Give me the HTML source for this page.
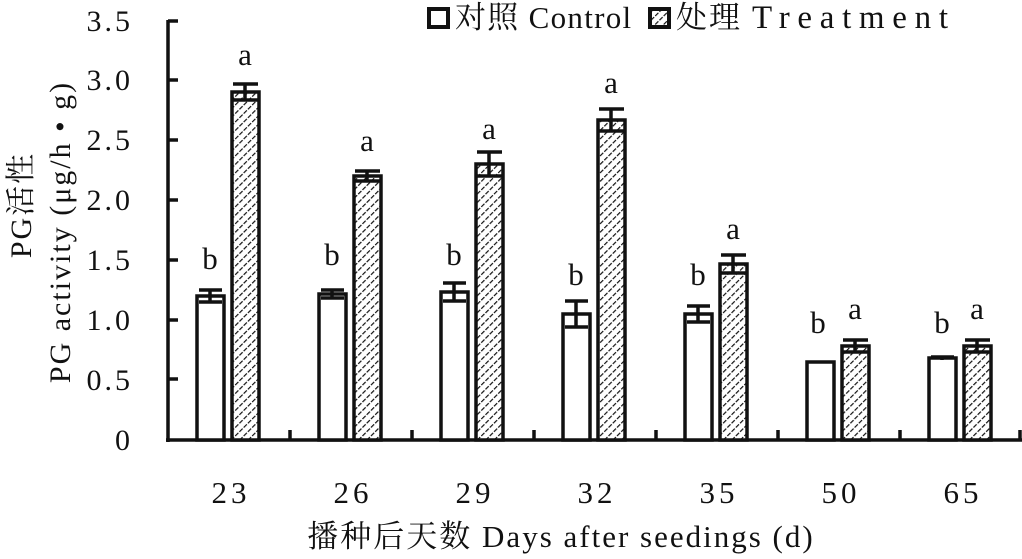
<!DOCTYPE html>
<html><head><meta charset="utf-8"><style>
html,body{margin:0;padding:0;background:#fff}
svg text{font-family:"Liberation Serif","Noto Serif CJK SC",serif;fill:#111}
</style></head><body>
<svg width="1022" height="554" xmlns="http://www.w3.org/2000/svg">
<defs>
<pattern id="h" width="6" height="6" patternUnits="userSpaceOnUse" patternTransform="rotate(45)">
<rect width="6" height="6" fill="#fff"/>
<line x1="0" y1="0" x2="0" y2="6" stroke="#111" stroke-width="2.4" stroke-dasharray="4,1.5"/>
</pattern>
</defs>
<g font-size="30" text-anchor="end" letter-spacing="3">
<text x="133" y="450">0</text>
<text x="133" y="390">0.5</text>
<text x="133" y="330">1.0</text>
<text x="133" y="270">1.5</text>
<text x="133" y="210">2.0</text>
<text x="133" y="150">2.5</text>
<text x="133" y="90">3.0</text>
<text x="133" y="31">3.5</text>
</g>
<g stroke="#111" stroke-width="3.5" fill="none">
<line x1="168" y1="20" x2="168" y2="442"/>
<line x1="166" y1="440" x2="1022" y2="440"/>
<line x1="168" y1="21" x2="178" y2="21"/>
<line x1="168" y1="80" x2="178" y2="80"/>
<line x1="168" y1="140" x2="178" y2="140"/>
<line x1="168" y1="200" x2="178" y2="200"/>
<line x1="168" y1="260" x2="178" y2="260"/>
<line x1="168" y1="320" x2="178" y2="320"/>
<line x1="168" y1="379" x2="178" y2="379"/>
<line x1="290" y1="440" x2="290" y2="430"/>
<line x1="412" y1="440" x2="412" y2="430"/>
<line x1="534" y1="440" x2="534" y2="430"/>
<line x1="656" y1="440" x2="656" y2="430"/>
<line x1="778" y1="440" x2="778" y2="430"/>
<line x1="900" y1="440" x2="900" y2="430"/>
<line x1="1020" y1="440" x2="1020" y2="430"/>
</g>
<g stroke="#111" stroke-width="3.5">
<rect x="197" y="296" width="27" height="144" fill="#fff"/>
<rect x="232" y="92" width="27" height="348" fill="url(#h)"/>
<rect x="319" y="294" width="27" height="146" fill="#fff"/>
<rect x="354" y="176" width="27" height="264" fill="url(#h)"/>
<rect x="441" y="292" width="27" height="148" fill="#fff"/>
<rect x="476" y="164" width="27" height="276" fill="url(#h)"/>
<rect x="563" y="314" width="27" height="126" fill="#fff"/>
<rect x="598" y="120" width="27" height="320" fill="url(#h)"/>
<rect x="685" y="314" width="27" height="126" fill="#fff"/>
<rect x="720" y="264" width="27" height="176" fill="url(#h)"/>
<rect x="807" y="362" width="27" height="78" fill="#fff"/>
<rect x="842" y="346" width="27" height="94" fill="url(#h)"/>
<rect x="929" y="358" width="27" height="82" fill="#fff"/>
<rect x="964" y="346" width="27" height="94" fill="url(#h)"/>
</g>
<g stroke="#111" stroke-width="3.5">
<path d="M210 290V302M199 290H222M199 302H222"/>
<path d="M245 84V100M233 84H258M233 100H258"/>
<path d="M332 290V298M321 290H344M321 298H344"/>
<path d="M367 171V181M355 171H380M355 181H380"/>
<path d="M454 283V301M443 283H466M443 301H466"/>
<path d="M489 152V176M477 152H502M477 176H502"/>
<path d="M576 301V327M565 301H588M565 327H588"/>
<path d="M611 109V131M599 109H624M599 131H624"/>
<path d="M698 306V322M687 306H710M687 322H710"/>
<path d="M733 255V273M721 255H746M721 273H746"/>
<path d="M855 340V352M843 340H868M843 352H868"/>
<path d="M942 356V360M931 357H954"/>
<path d="M977 340V352M965 340H990M965 352H990"/>
</g>
<g font-size="31" text-anchor="middle">
<text x="210" y="269">b</text><text x="245" y="65">a</text>
<text x="332" y="265">b</text><text x="367" y="151">a</text>
<text x="454" y="265">b</text><text x="489" y="139">a</text>
<text x="576" y="285">b</text><text x="611" y="93">a</text>
<text x="698" y="285">b</text><text x="733" y="239">a</text>
<text x="818" y="333">b</text><text x="855" y="319">a</text>
<text x="942" y="333">b</text><text x="977" y="319">a</text>
</g>
<g font-size="31" text-anchor="middle" letter-spacing="4">
<text x="231" y="503">23</text><text x="353" y="503">26</text><text x="475" y="503">29</text>
<text x="597" y="503">32</text><text x="719" y="503">35</text><text x="841" y="503">50</text>
<text x="963" y="503">65</text>
</g>
<text x="561" y="547" font-size="31" text-anchor="middle" letter-spacing="2">播种后天数 Days after seedings (d)</text>
<text transform="translate(31,205) rotate(-90)" font-size="30" text-anchor="middle" letter-spacing="2">PG活性</text>
<text transform="translate(70,232) rotate(-90)" font-size="30" text-anchor="middle" letter-spacing="2">PG activity (μg/h • g)</text>
<rect x="429" y="9" width="19" height="18" fill="#fff" stroke="#111" stroke-width="4"/>
<text x="455" y="28" font-size="31" letter-spacing="1.3">对照 Control</text>
<rect x="650" y="9" width="19" height="18" fill="url(#h)" stroke="#111" stroke-width="4"/>
<text x="676" y="28" font-size="31" letter-spacing="2">处理</text>
<text x="752" y="28" font-size="33" textLength="196" lengthAdjust="spacing">Treatment</text>
</svg>
</body></html>
